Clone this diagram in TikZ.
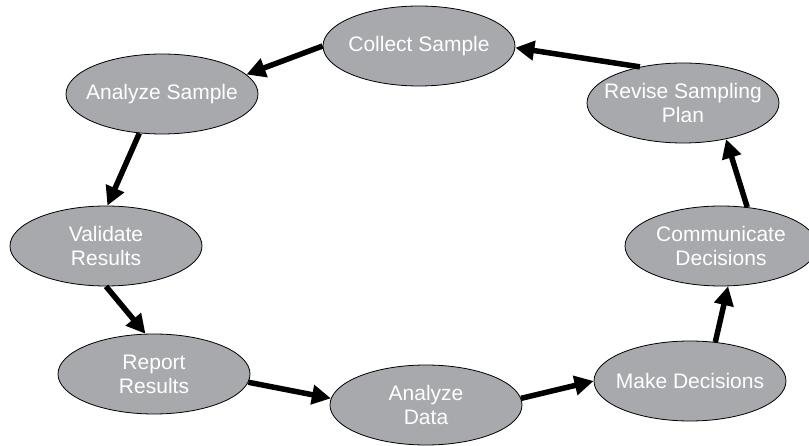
\documentclass[tikz,border=0pt]{standalone}
\usepackage{fontspec}
\setmainfont{Liberation Sans}
\usetikzlibrary{arrows.meta,shapes.geometric}
\definecolor{phasegray}{RGB}{167,169,172}

\begin{document}
\begin{tikzpicture}[
      x=1pt,
      y=-1pt,
      phase/.style={
        ellipse,
        draw=black,
        fill=phasegray,
        line width=0.8pt,
        inner sep=0pt,
        minimum width=192pt,
        minimum height=80pt
      },
      phasetext/.style={
        text=white,
        align=center,
        font=\fontsize{21}{24}\selectfont
      },
      step arrow/.style={
        -{Triangle[length=19pt,width=19pt]},
        draw=black,
        line width=5.5pt
      }
    ]
    \useasboundingbox (0,0) rectangle (809,446);

    \node[phase, label={[phasetext]center:Collect Sample}] (collect) at (419,46) {};
    \node[phase, label={[phasetext]center:Analyze Sample}] (anasample) at (162,94) {};
    \node[phase, label={[phasetext]center:{Validate\\Results}}] (validate) at (106,246) {};
    \node[phase, label={[phasetext]center:{Report\\Results}}] (report) at (154,374) {};
    \node[phase, label={[phasetext]center:{Analyze\\Data}}] (anadata) at (426,405) {};
    \node[phase, label={[phasetext]center:Make Decisions}] (decide) at (690,381) {};
    \node[phase, label={[phasetext]center:{Communicate\\Decisions}}] (communicate) at (721,246) {};
    \node[phase, label={[phasetext]center:{Revise Sampling\\Plan}}] (revise) at (683,103) {};

    \draw[step arrow] (revise.140) -- (collect.-1);
    \draw[step arrow] (collect.west) -- (anasample.13);
    \draw[step arrow] (anasample.-120) -- (validate.88);
    \draw[step arrow] (validate.south) -- (report.102);
    \draw[step arrow] (report.-5) -- (anadata.176);
    \draw[step arrow] (anadata.4) -- (decide.west);
    \draw[step arrow] (decide.57) -- (communicate.-80);
    \draw[step arrow] (communicate.56) -- (revise.-40);
  \end{tikzpicture}
\end{document}
